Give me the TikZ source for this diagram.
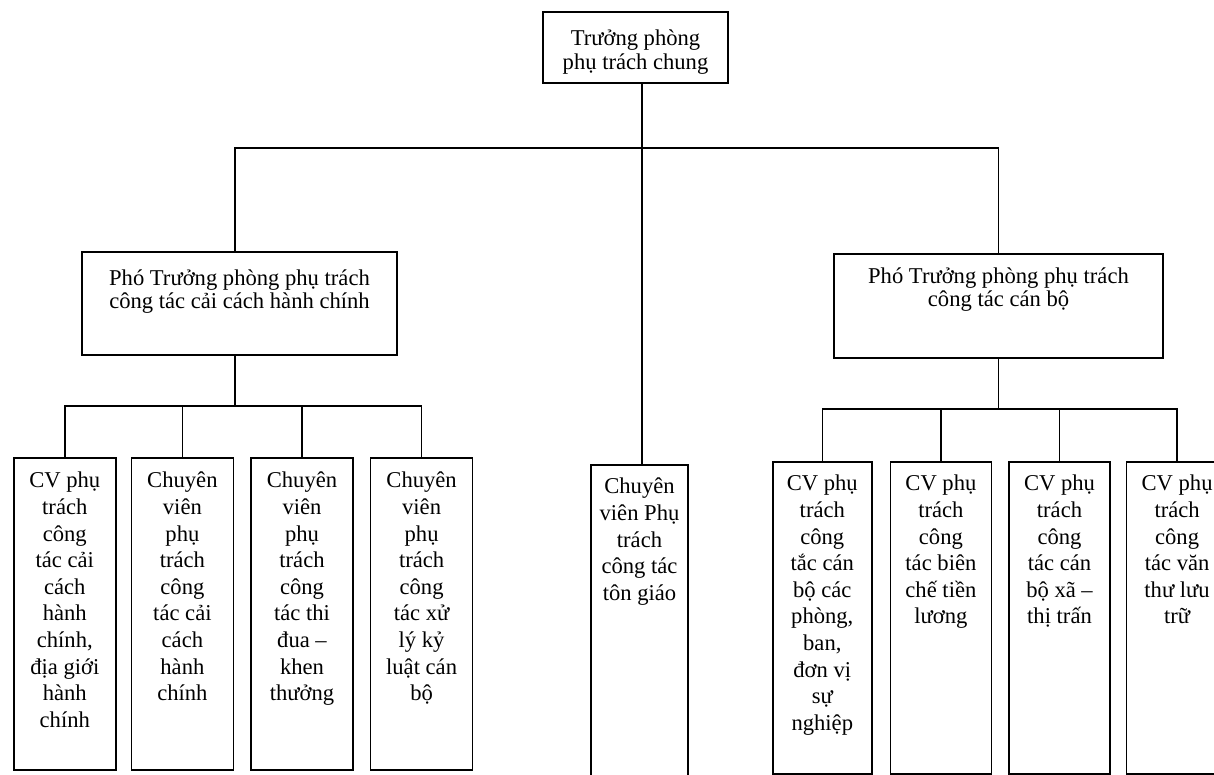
\documentclass[tikz,border=0pt]{standalone}
\usepackage{fontspec}
\setmainfont{Liberation Serif}
\usepackage{tikz}
\usetikzlibrary{positioning}

% text of a box, set from the top: [first baseline]{height}{width}{text}
\newcommand{\boxtext}[4][30pt]{\parbox[t][#2][t]{#3}{\centering\rule{0pt}{#1}#4}}

\begin{document}
\begin{tikzpicture}[x=1pt,y=-1pt,
    box/.style={draw,line width=1.6pt,inner sep=0pt},
    link/.style={line width=1.6pt},
    small/.style={font=\fontsize{22.6}{26.6}\selectfont},
    node distance=16pt]
  \useasboundingbox (0,0) rectangle (1214,775);

  % top and heads
  \node[box,anchor=north,font=\fontsize{22.6}{23.3}\selectfont] (chief) at (635.5,11)
    {\boxtext[34pt]{71pt}{185pt}{Trưởng phòng\\phụ trách chung}};
  \node[box,anchor=north,font=\fontsize{22.6}{22.4}\selectfont] (reform) at (239.5,251)
    {\boxtext[34pt]{103pt}{315pt}{Phó Trưởng phòng phụ trách\\công tác cải cách hành chính}};
  \node[box,anchor=north,font=\fontsize{22.6}{22.4}\selectfont] (staff) at (998.5,253)
    {\boxtext[30pt]{104pt}{329pt}{Phó Trưởng phòng phụ trách\\công tác cán bộ}};

  % left group
  \node[box,small,anchor=north west] (a1) at (13,457)
    {\boxtext{312pt}{102pt}{CV phụ\\trách\\công\\tác cải\\cách\\hành\\chính,\\địa giới\\hành\\chính}};
  \node[box,small,right=14pt of a1] (a2)
    {\boxtext{312pt}{102pt}{Chuyên\\viên\\phụ\\trách\\công\\tác cải\\cách\\hành\\chính}};
  \node[box,small,right=of a2] (a3)
    {\boxtext{312pt}{102pt}{Chuyên\\viên\\phụ\\trách\\công\\tác thi\\đua –\\khen\\thưởng}};
  \node[box,small,right=of a3] (a4)
    {\boxtext{312pt}{102pt}{Chuyên\\viên\\phụ\\trách\\công\\tác xử\\lý kỷ\\luật cán\\bộ}};

  % middle
  \node[box,small,anchor=north] (religion) at (639.5,464)
    {\boxtext[29pt]{340pt}{97pt}{Chuyên\\viên Phụ\\trách\\công tác\\tôn giáo}};

  % right group
  \node[box,small,anchor=north west] (b1) at (772,461)
    {\boxtext[29pt]{312pt}{99pt}{CV phụ\\trách\\công\\tắc cán\\bộ các\\phòng,\\ban,\\đơn vị\\sự\\nghiệp}};
  \node[box,small,right=17pt of b1] (b2)
    {\boxtext[29pt]{312pt}{101pt}{CV phụ\\trách\\công\\tác biên\\chế tiền\\lương}};
  \node[box,small,right=of b2] (b3)
    {\boxtext[29pt]{312pt}{101pt}{CV phụ\\trách\\công\\tác cán\\bộ xã –\\thị trấn}};
  \node[box,small,right=15pt of b3] (b4)
    {\boxtext[29pt]{312pt}{101pt}{CV phụ\\trách\\công\\tác văn\\thư lưu\\trữ}};

  % buses
  \coordinate (bus) at (642,148);
  \coordinate (busA) at (235,406);
  \coordinate (busB) at (997,409);

  \draw[link] (chief.south -| bus) -- (bus);
  \draw[link] (reform.north -| busA) -- (busA |- bus) -- (staff.north |- bus) -- (staff.north);
  \draw[link] (bus) -- (bus |- religion.north);

  \draw[link] (reform.south -| busA) -- (busA);
  \draw[link] (a1.north) |- (busA) -| (a4.north);
  \draw[link] (a2.north) -- (a2.north |- busA);
  \draw[link] (a3.north) -- (a3.north |- busA);

  \draw[link] (staff.south) -- (staff.south |- busB);
  \draw[link] (b1.north) |- (busB) -| (b4.north);
  \draw[link] (b2.north) -- (b2.north |- busB);
  \draw[link] (b3.north) -- (b3.north |- busB);
\end{tikzpicture}
\end{document}
